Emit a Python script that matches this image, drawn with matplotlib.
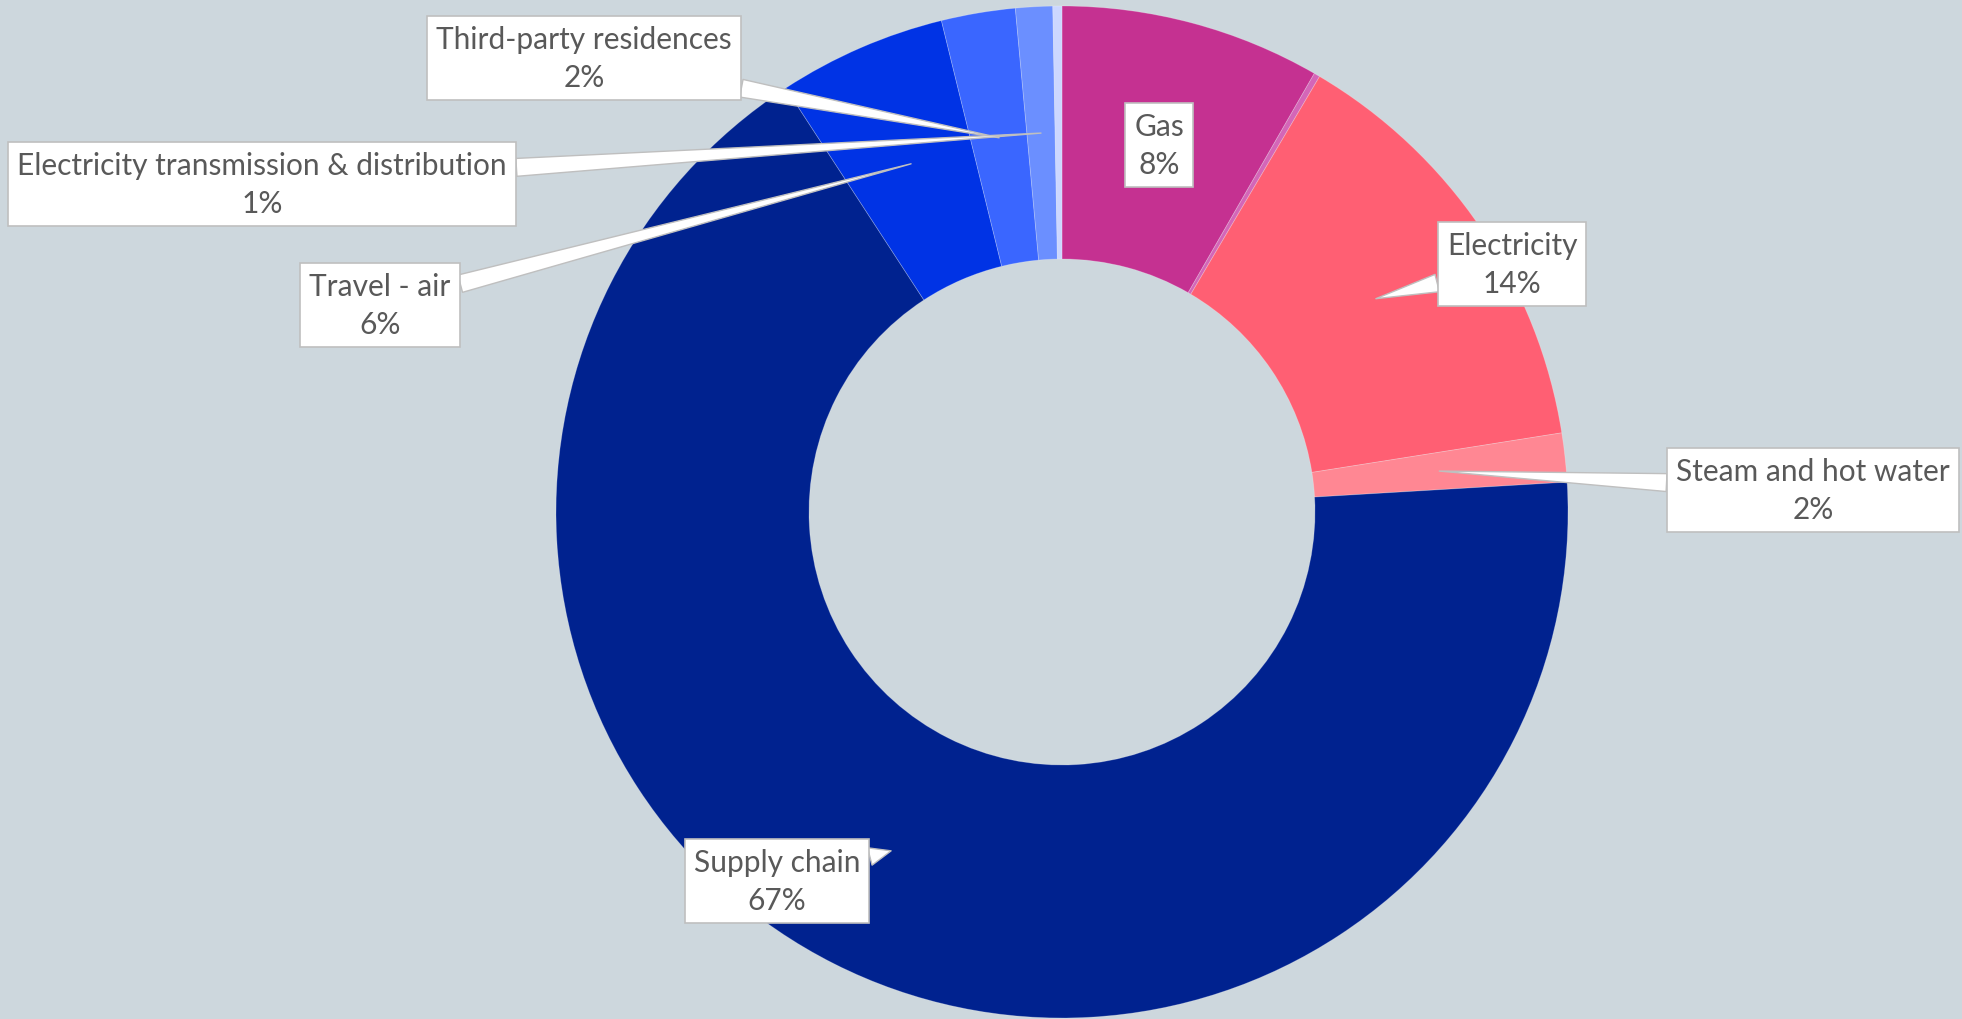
import numpy as np
import matplotlib.pyplot as plt

# emission shares (%), clockwise from 12 o'clock
categories = ['Gas', '', 'Electricity', 'Steam and hot water', 'Supply chain',
              'Travel - air', 'Third-party residences',
              'Electricity transmission & distribution', '']
shares = [8.31, 0.19, 14.0, 1.56, 66.75, 5.36, 2.36, 1.18, 0.29]
pct_labels = ['8%', '', '14%', '2%', '67%', '6%', '2%', '1%', '']
colors = ['#C53191', '#D466B8', '#FF5F73', '#FF8793', '#00228F',
          '#0033E5', '#3A66FF', '#6B8FFF', '#CCD7FF']

# label box centres in pixels (x from left, y from top), None = no label
label_pos = [(1159, 146), None, (1512, 265), (1813, 491), (777, 882),
             (380, 306), (584, 59), (262, 185), None]

W, H = 1962, 1020
bg = '#CDD7DD'
cx, cy = 1062, H - 513
r_out, r_in = 506, 253

plt.rcParams['font.family'] = ['Lato', 'DejaVu Sans']

fig = plt.figure(figsize=(W / 100, H / 100), dpi=100, facecolor=bg)
ax = fig.add_axes([0, 0, 1, 1])
ax.set_facecolor(bg)

wedges, _ = ax.pie(shares, colors=colors, startangle=90, counterclock=False,
                   radius=r_out, center=(cx, cy),
                   wedgeprops=dict(width=r_out - r_in, edgecolor=(1, 1, 1, 0.25), linewidth=0.6))

ax.set_xlim(0, W)
ax.set_ylim(0, H)
ax.set_aspect('equal')
ax.axis('off')

r_mid = (r_out + r_in) / 2
for w, name, pct, pos in zip(wedges, categories, pct_labels, label_pos):
    if pos is None:
        continue
    th = np.deg2rad((w.theta1 + w.theta2) / 2)
    tip = (cx + r_mid * np.cos(th), cy + r_mid * np.sin(th))
    box_xy = (pos[0], H - pos[1])
    arrow = None
    if np.hypot(box_xy[0] - tip[0], box_xy[1] - tip[1]) > 30:
        arrow = dict(arrowstyle='wedge,tail_width=0.6,shrink_factor=0.5',
                     fc='white', ec='#BFBFBF', lw=1, shrinkA=0, shrinkB=0)
    ax.annotate(f'{name}\n{pct}', xy=tip, xytext=box_xy, ha='center', va='center',
                fontsize=21.5, color='#595959', linespacing=1.4,
                bbox=dict(boxstyle='square,pad=0.3', fc='white', ec='#BFBFBF', lw=1.2),
                arrowprops=arrow)

fig.savefig('out.png', dpi=100, facecolor=bg)
